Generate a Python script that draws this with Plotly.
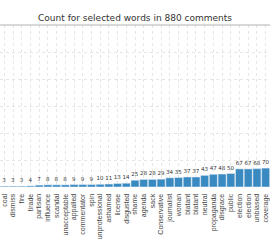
import plotly.graph_objects as go

words = ["coal", "dismiss", "fire", "tirade", "partisan", "influence", "scandal",
         "unacceptable", "appalled", "commentator", "spin", "unprofessional",
         "ashamed", "license", "disgusted", "shame", "agenda", "sack",
         "Conservative", "journalist", "woman", "blatant", "blatant", "neutral",
         "propaganda", "disgrace", "public", "election", "election", "unbiased",
         "coverage"]
counts = [3, 3, 3, 4, 7, 8, 8, 8, 9, 9, 9, 10, 11, 13, 14, 25, 28, 28, 29, 34,
          35, 37, 37, 43, 47, 48, 50, 67, 67, 68, 70]
y_ticks = [0, 100, 200, 300, 400, 500, 600]

pos = list(range(len(words)))

fig = go.Figure(go.Bar(
    x=pos, y=counts, text=[str(c) for c in counts], textposition="outside",
    textfont=dict(size=5.5, color="#333", family="DejaVu Sans"), marker_color="#3a8ac2",
    cliponaxis=False,
))
fig.update_layout(
    width=270, height=250,
    margin=dict(l=0, r=0, t=25, b=63),
    paper_bgcolor="white", plot_bgcolor="white",
    title=dict(text="Count for selected words in 880 comments", x=0.5, xanchor="center",
               y=1 - 18 / 250, yanchor="middle",
               font=dict(family="DejaVu Sans", size=9, color="#333")),
    bargap=0.08,
    showlegend=False,
    font=dict(family="Liberation Sans"),
    shapes=[dict(type="line", xref="paper", yref="paper", x0=0, x1=1, y0=1, y1=1,
                 line=dict(color="#b0b0b0", width=1))],
)
fig.update_xaxes(
    tickvals=pos, ticktext=words, tickangle=-90, range=[-0.5, len(words) - 0.5],
    tickfont=dict(size=7, color="#444", family="Liberation Sans"), showgrid=True,
    gridcolor="#e6e6e6", griddash="dot", ticks="outside", ticklen=3,
    tickcolor="rgba(0,0,0,0)", showline=False, zeroline=False,
)
fig.update_yaxes(
    range=[0, 600], tickvals=y_ticks, showticklabels=False, showgrid=True,
    gridcolor="#e6e6e6", griddash="dot", zeroline=False, showline=False,
)
fig.write_html("out.html")
